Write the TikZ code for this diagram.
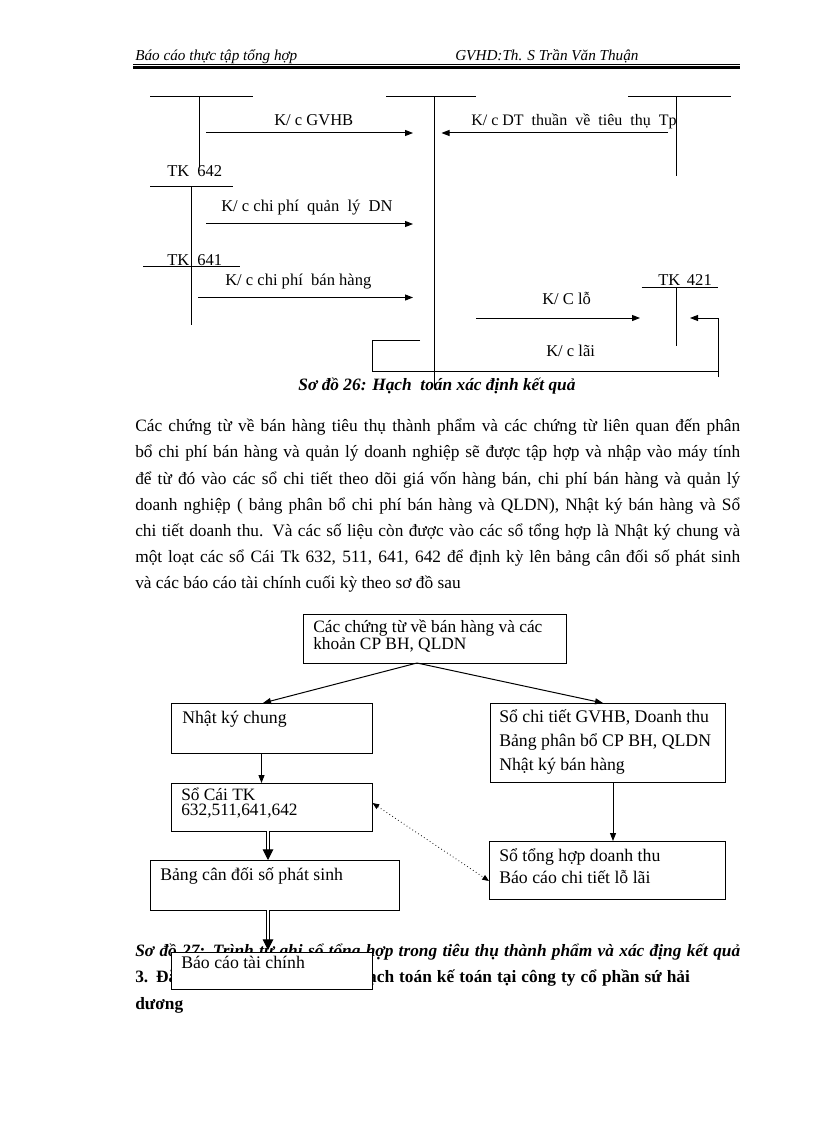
\documentclass[tikz,border=0pt]{standalone}
\usepackage{fontspec}
\setmainfont{Liberation Serif}
\usetikzlibrary{arrows.meta,calc,fit}
\begin{document}
\begin{tikzpicture}[x=0.75pt,y=-0.75pt,
  ln/.style={line width=0.75pt},
  arr/.style={line width=0.75pt,-{Triangle[length=6pt,width=4.5pt]}},
  lbl/.style={inner sep=0pt,anchor=base west,font=\fontsize{12.4}{14}\selectfont},
  blbl/.style={inner sep=0pt,anchor=base west,font=\fontsize{13.3}{15}\selectfont},
  tight/.style={inner sep=0pt,anchor=north west,align=left,font=\fontsize{13}{11.4}\selectfont},
  body/.style={inner sep=0pt,anchor=base west,font=\fontsize{13}{15}\selectfont},
  hdr/.style={inner sep=0pt,anchor=base west,font=\fontsize{11.4}{13}\selectfont\itshape},
  box/.style={draw,line width=0.75pt,inner sep=0pt},
  dbl/.style={double,double distance=1.8pt,line width=0.7pt,-{Triangle[length=8pt,width=8pt]}},
  dot/.style={line width=0.6pt,dotted,{Triangle[length=5pt,width=4pt]}-{Triangle[length=5pt,width=4pt]}},
]
\useasboundingbox[fill=white] (0,0) rectangle (816,1123);

% header
\node[hdr] (h1) at (135,61) {Báo cáo thực tập tổng hợp};
\node[hdr] (h2) at (455,61) {GVHD:Th. S Trần Văn Thuận};
\draw[line width=0.75pt] (133,64.5) -- (740,64.5);
\draw[line width=1.6pt] (133,67.5) -- (740,67.5);

% diagram 26: T accounts
\draw[ln] (150,97) -- (253,97);
\draw[ln] (199,97) -- (199,167);
\draw[ln] (386,97) -- (476,97);
\draw[ln] (434,97) -- (434,388);
\draw[ln] (628,97) -- (731,97);
\draw[ln] (676.5,97) -- (676.5,176);
\node[lbl] (tk642) at (167,177) {TK\hspace{6pt}642};
\draw[ln] (150,187) -- (233,187);
\draw[ln] (191.5,187) -- (191.5,325);
\node[lbl] (tk641) at (167,265) {TK\hspace{6pt}641};
\draw[ln] (143,266) -- (240,266);
\node[lbl] (tk421) at (658,285) {TK\hspace{5pt}421};
\draw[ln] (641.5,287) -- (718,287);
\draw[ln] (676.5,287) -- (676.5,346);

% arrows of diagram 26
\coordinate (a1s) at (206,133); \coordinate (a1e) at (413,133);
\draw[arr] (a1s) -- (a1e);
\node[lbl] (l1) at (274,126) {K/ c GVHB};
\coordinate (a2s) at (668,133); \coordinate (a2e) at (441.5,133);
\draw[arr] (a2s) -- (a2e);
\node[lbl,font=\fontsize{12}{14}\selectfont] (l2) at (471,126) {K/ c DT\ \ thuần\ \ về\ \ tiêu\ \ thụ\ \ Tp};
\coordinate (a3s) at (206,224); \coordinate (a3e) at (413,224);
\draw[arr] (a3s) -- (a3e);
\node[lbl] (l3) at (221,212) {K/ c chi phí\ \ quản\ \ lý\ \ DN};
\coordinate (a4s) at (198,297.5); \coordinate (a4e) at (413,297.5);
\draw[arr] (a4s) -- (a4e);
\node[lbl] (l4) at (225,285) {K/ c chi phí\ \ bán hàng};
\coordinate (a5s) at (476,318); \coordinate (a5e) at (640,318);
\draw[arr] (a5s) -- (a5e);
\node[lbl] (l5) at (542,304) {K/ C lỗ};
\coordinate (r1) at (718,377); \coordinate (r2) at (718,318); \coordinate (r3) at (690,318);
\draw[arr] (r1) -- (r2) -- (r3);
\node[lbl] (l6) at (546,356) {K/ c lãi};
\draw[ln] (420,340) -- (372,340) -- (372,371) -- (718,371);

\node[inner sep=0pt,anchor=base,font=\fontsize{13}{15}\selectfont\bfseries\itshape] (cap26) at (437,390) {Sơ đồ 26: Hạch\ \ toán xác định kết quả};

% paragraph
\node[body] (p1) at (135,431) {\makebox[453.75pt][s]{Các chứng từ về bán hàng tiêu thụ thành phẩm và các chứng từ liên quan đến phân}};
\node[body] (p2) at (135,457.5) {\makebox[453.75pt][s]{bổ chi phí bán hàng và quản lý doanh nghiệp sẽ được tập hợp và nhập vào máy tính}};
\node[body] (p3) at (135,484) {\makebox[453.75pt][s]{để từ đó vào các sổ chi tiết theo dõi giá vốn hàng bán, chi phí bán hàng và quản lý}};
\node[body] (p4) at (135,510) {\makebox[453.75pt][s]{doanh nghiệp ( bảng phân bổ chi phí bán hàng và QLDN), Nhật ký bán hàng và Sổ}};
\node[body] (p5) at (135,536) {\makebox[453.75pt][s]{chi tiết doanh thu. Và các số liệu còn được vào các sổ tổng hợp là Nhật ký chung và}};
\node[body] (p6) at (135,562) {\makebox[453.75pt][s]{một loạt các sổ Cái Tk 632, 511, 641, 642 để định kỳ lên bảng cân đối số phát sinh}};
\node[body] (p7) at (135,588) {và các báo cáo tài chính cuối kỳ theo sơ đồ sau};

% diagram 27 boxes
\node[box,fit={(303,614) (566,663)}] (top) {};
\node[tight] (toptxt) at (313,620) {Các chứng từ về bán hàng và các\\khoản CP BH, QLDN};
\node[box,fit={(171,703) (372,753)}] (nkc) {};
\node[blbl] (nkct) at (182,723) {Nhật ký chung};
\node[box,fit={(490,703) (725,782)}] (sct) {};
\node[blbl] (sct1) at (499,722) {Sổ chi tiết GVHB, Doanh thu};
\node[blbl] (sct2) at (499,746) {Bảng phân bổ CP BH, QLDN};
\node[blbl] (sct3) at (499,770) {Nhật ký bán hàng};
\node[box,fit={(171,783) (372,831)}] (socai) {};
\node[tight] (socaitxt) at (181,787.5) {Sổ Cái TK\\632,511,641,642};
\node[box,fit={(150,860) (399,910)}] (bcd) {};
\node[blbl] (bcdt) at (160,880) {Bảng cân đối số phát sinh};
\node[box,fit={(489,841) (725,899)}] (sth) {};
\node[blbl] (sth1) at (499,861) {Sổ tổng hợp doanh thu};
\node[blbl] (sth2) at (499,883) {Báo cáo chi tiết lỗ lãi};

% connectors of diagram 27
\coordinate (t1) at (417,663);
\coordinate (nkcin) at (263,703);
\coordinate (sctin) at (603,703);
\draw[arr] (t1) -- (nkcin);
\draw[arr] (t1) -- (sctin);
\coordinate (nkcout) at (261.5,753); \coordinate (socaiin) at (261.5,783);
\draw[arr] (nkcout) -- (socaiin);
\coordinate (sctout) at (613,782); \coordinate (sthin) at (613,841);
\draw[arr] (sctout) -- (sthin);
\coordinate (d1) at (372.5,803); \coordinate (d2) at (489,881);
\draw[dot] (d1) -- (d2);
\coordinate (sc1) at (268,831); \coordinate (sc2) at (268,860);
\draw[dbl] (sc1) -- (sc2);

% caption 27 and heading
\node[inner sep=0pt,anchor=base west,font=\fontsize{13}{15}\selectfont\bfseries\itshape] (cap27) at (135,956) {\makebox[453.75pt][s]{Sơ đồ 27: Trình tự ghi sổ tổng hợp trong tiêu thụ thành phẩm và xác địng kết quả}};
\node[inner sep=0pt,anchor=base west,font=\fontsize{13}{15}\selectfont\bfseries] (sec3) at (135,982) {\makebox[416pt][s]{3. Đặc điểm tổ chức công tác hạch toán kế toán tại công ty cổ phần sứ hải}};
\node[inner sep=0pt,anchor=base west,font=\fontsize{13}{15}\selectfont\bfseries] (sec3b) at (135,1009) {dương};

\coordinate (bc1) at (268,910); \coordinate (bc2) at (268,950);
\draw[dbl] (bc1) -- (bc2);
\node[box,fill=white,fit={(171,952) (372,989)}] (bctc) {};
\node[blbl] (bctct) at (181,968) {Báo cáo tài chính};
\end{tikzpicture}
\end{document}
